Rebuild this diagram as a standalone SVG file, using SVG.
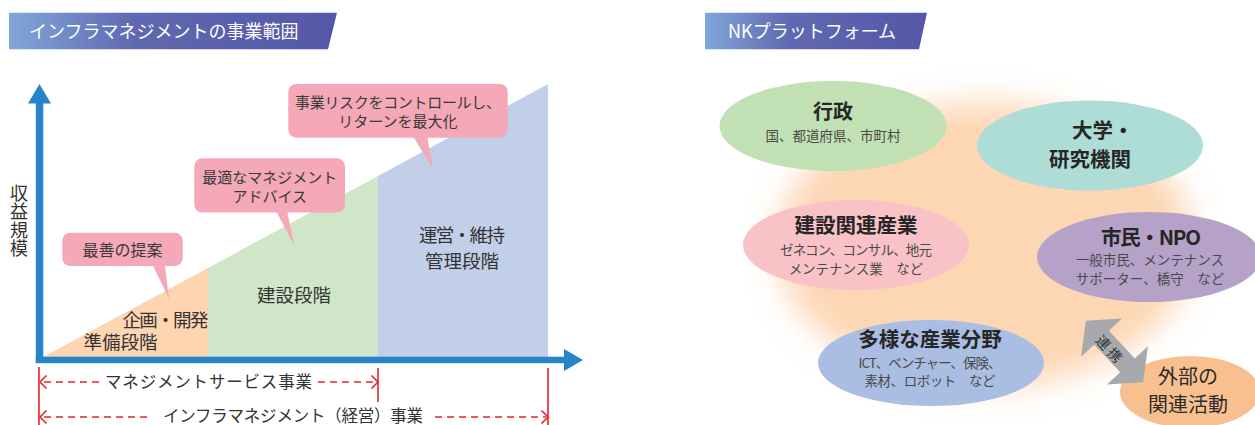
<svg xmlns="http://www.w3.org/2000/svg" width="1255" height="425" viewBox="0 0 1255 425">
<defs>
  <linearGradient id="bannerGrad" x1="0" y1="0" x2="1" y2="0">
    <stop offset="0" stop-color="#82a6d9"/>
    <stop offset="0.38" stop-color="#5f69b1"/>
    <stop offset="1" stop-color="#5457a6"/>
  </linearGradient>
  <filter id="blur" x="-30%" y="-30%" width="160%" height="160%">
    <feGaussianBlur stdDeviation="16"/>
  </filter>
</defs>
<style>
  text { font-family: "Noto Sans CJK JP", "Noto Sans", sans-serif; fill: #333; }
  .banner { fill: url(#bannerGrad); }
  .banner-t { fill: #fff; font-size: 18px; }
  .callout { fill: #f4a8b8; }
  .co-t { font-size: 15px; text-anchor: middle; fill: #3a3a3a; }
  .stage { font-size: 18.5px; text-anchor: middle; fill: #333; }
  .axis { fill: #2585c8; }
  .dim { stroke: #e8232c; stroke-width: 1.6; fill: none; }
  .dash { stroke-dasharray: 7 5; }
  .dim-t { font-size: 16.5px; text-anchor: middle; fill: #333; }
  .nt { text-anchor: middle; }
  .et { font-size: 20.5px; font-weight: bold; fill: #262626; }
  .es { font-size: 13.5px; font-weight: normal; fill: #4a4a4a; }
  .ext { font-size: 20px; text-anchor: middle; fill: #2b2b2b; }
</style>

<!-- Left panel -->
<g id="banner-left">
  <polygon class="banner" points="9,12.7 337,12.7 328,49.3 9,49.3"/>
  <text class="banner-t" x="29" y="38">インフラマネジメントの事業範囲</text>
</g>

<g id="areas">
  <polygon fill="#fdd5b0" points="43,357 208,268 208,357"/>
  <polygon fill="#d0e6c8" points="208,268 378,176 378,357 208,357"/>
  <polygon fill="#c1cfe9" points="378,176 548,84 548,357 378,357"/>
</g>

<g id="axes">
  <rect class="axis" x="35.8" y="100" width="7.5" height="263"/>
  <polygon class="axis" points="39.5,84 51,103.5 28,103.5"/>
  <rect class="axis" x="35.8" y="356.7" width="530" height="6.5"/>
  <polygon class="axis" points="564,349 583,360 564,371"/>
</g>

<g id="y-label">
  <text x="19" y="184" style="writing-mode:vertical-rl;font-size:18px;letter-spacing:0.4px;fill:#333">収益規模</text>
</g>

<g id="stage-plan">
  <text class="stage"><tspan x="165.4" y="327" textLength="86">企画・開発</tspan><tspan x="120.5" y="349.3">準備段階</tspan></text>
</g>
<g id="stage-build">
  <text class="stage" x="294" y="302">建設段階</text>
</g>
<g id="stage-operate">
  <text class="stage"><tspan x="462" y="242.3" textLength="86">運営・維持</tspan><tspan x="462" y="268">管理段階</tspan></text>
</g>

<g id="callout-proposal">
  <rect class="callout" x="62.3" y="232.7" width="120.4" height="33.3" rx="8"/>
  <polygon class="callout" points="152.7,265 165,265 169,299"/>
  <text class="co-t" x="122.5" y="256" style="font-size:16px">最善の提案</text>
</g>
<g id="callout-advice">
  <rect class="callout" x="194.3" y="158.3" width="150.7" height="54.2" rx="8"/>
  <polygon class="callout" points="276,211 287,211 294.5,246"/>
  <text class="co-t"><tspan x="269.7" y="183">最適なマネジメント</tspan><tspan x="269.7" y="202.4">アドバイス</tspan></text>
</g>
<g id="callout-risk">
  <rect class="callout" x="288.3" y="84" width="219.4" height="53.7" rx="8"/>
  <polygon class="callout" points="413,136 427,136 433.3,170"/>
  <text class="co-t"><tspan x="398" y="108" textLength="206">事業リスクをコントロールし、</tspan><tspan x="398" y="127.4">リターンを最大化</tspan></text>
</g>

<g id="dimensions">
  <path class="dim" d="M39,367 V425 M378,368 V402 M548,368 V425"/>
  <path class="dim" d="M46.5,375.5 L40,382 L46.5,388.5 M371.5,375.5 L378,382 L371.5,388.5"/>
  <path class="dim dash" d="M44,382 H99 M318,382 H376"/>
  <text class="dim-t" x="208.5" y="388.3" textLength="207">マネジメントサービス事業</text>
  <path class="dim" d="M46.5,410.5 L40,417 L46.5,423.5 M541.5,410.5 L548,417 L541.5,423.5"/>
  <path class="dim dash" d="M44,417 H148 M435,417 H546"/>
  <text class="dim-t" x="293" y="422.3" textLength="260">インフラマネジメント（経営）事業</text>
</g>

<!-- Right panel -->
<g id="banner-right">
  <polygon class="banner" points="705,12.7 927,12.7 919,49.3 705,49.3"/>
  <text class="banner-t" x="728" y="38">NKプラットフォーム</text>
</g>

<g id="platform-blob">
  <ellipse cx="985" cy="245" rx="208" ry="142" fill="#fdd6b4" filter="url(#blur)"/>
</g>

<g id="node-gyosei">
  <ellipse cx="833" cy="126" rx="113.5" ry="45" fill="#c1e0b3"/>
  <text class="nt"><tspan class="et" x="833" y="119.3" style="font-size:20px">行政</tspan><tspan class="es" x="833" y="141">国、都道府県、市町村</tspan></text>
</g>
<g id="node-university">
  <ellipse cx="1090" cy="145.5" rx="113" ry="45" fill="#aedcd6"/>
  <text class="et"><tspan x="1072" y="138.4">大学・</tspan><tspan x="1090" y="166.8" text-anchor="middle">研究機関</tspan></text>
</g>
<g id="node-construction">
  <ellipse cx="856" cy="245" rx="113" ry="45" fill="#f8c2c6"/>
  <text class="nt"><tspan class="et" x="856" y="232.8">建設関連産業</tspan><tspan class="es" x="856" y="255" textLength="152">ゼネコン、コンサル、地元</tspan><tspan class="es" x="856" y="273.5">メンテナンス業　など</tspan></text>
</g>
<g id="node-citizen">
  <ellipse cx="1149" cy="257" rx="112" ry="45" fill="#b6a2c9"/>
  <text class="nt"><tspan class="et" x="1151" y="244.5" textLength="100">市民・NPO</tspan><tspan class="es" x="1150" y="264.5">一般市民、メンテナンス</tspan><tspan class="es" x="1150" y="283.5">サポーター、橋守　など</tspan></text>
</g>
<g id="node-industry">
  <ellipse cx="931" cy="363" rx="113" ry="43" fill="#aabde3"/>
  <text class="nt"><tspan class="et" x="930" y="347">多様な産業分野</tspan><tspan class="es" x="930" y="367.5" textLength="143">ICT、ベンチャー、保険、</tspan><tspan class="es" x="930" y="386.3" textLength="131">素材、ロボット　など</tspan></text>
</g>
<g id="node-external">
  <ellipse cx="1190" cy="392" rx="70" ry="36" fill="#f9c08f"/>
  <text class="ext"><tspan x="1188" y="384.2">外部の</tspan><tspan x="1188" y="412">関連活動</tspan></text>
</g>

<g id="connectors">
  <path transform="translate(1114.5,351.5) rotate(47)" fill="#a7a9ac" d="M-42,0 L-19,-28 L-19,-10 L19,-10 L19,-28 L42,0 L19,28 L19,10 L-19,10 L-19,28 Z"/>
  <text transform="translate(1110,350) rotate(47)" x="0" y="5" style="font-size:14px;text-anchor:middle;letter-spacing:3px;fill:#333">連携</text>
</g>
</svg>
